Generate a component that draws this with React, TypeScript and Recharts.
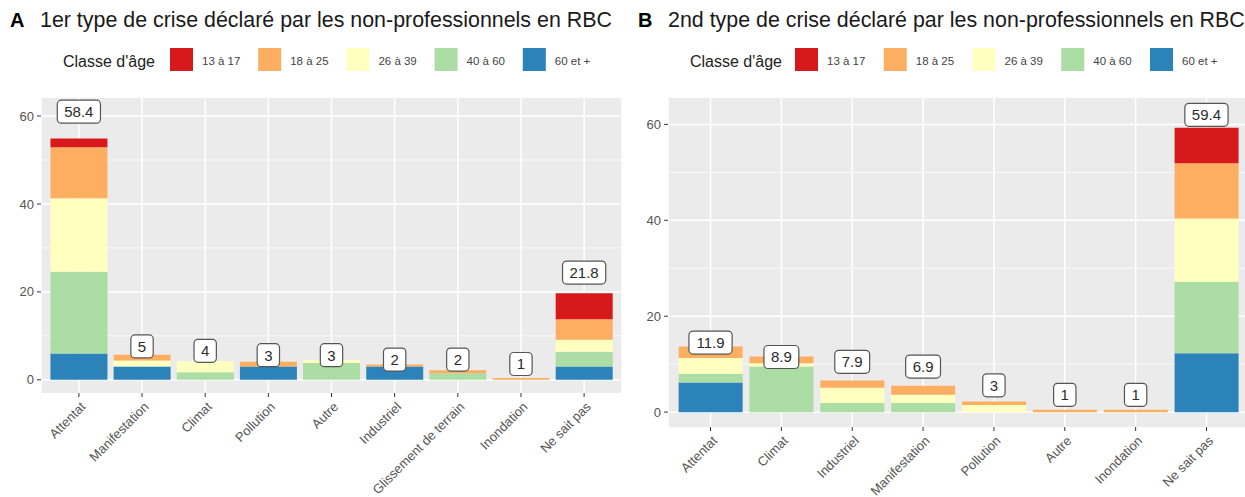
import React from "react";
import { ComposedChart, Bar, Scatter, XAxis, YAxis, CartesianGrid } from "recharts";

const FONT = '"Liberation Sans", Arial, Helvetica, sans-serif';

// age classes, legend order (top of stack first)
const ageClasses = ["13 à 17", "18 à 25", "26 à 39", "40 à 60", "60 et +"];
const ageKeys = ["k1317", "k1825", "k2639", "k4060", "k60p"];
const ageColors = ["#D7191C", "#FDAE61", "#FFFFBF", "#ABDDA4", "#2B83BA"];

// panel A: 1er type de crise
const typesA = [
  "Attentat",
  "Manifestation",
  "Climat",
  "Pollution",
  "Autre",
  "Industriel",
  "Glissement de terrain",
  "Inondation",
  "Ne sait pas",
];
const a1317 = [2.0, 0, 0, 0, 0, 0, 0, 0, 5.9];
const a1825 = [11.6, 1.3, 0, 1.1, 0, 0.5, 0.7, 0.4, 4.7];
const a2639 = [16.7, 1.4, 2.5, 0, 0.7, 0, 0, 0, 2.7];
const a4060 = [18.6, 0, 1.7, 0, 3.8, 0, 1.5, 0, 3.4];
const a60p = [6.0, 3.0, 0, 3.0, 0, 3.0, 0, 0, 3.0];
const labelsA = [58.4, 5, 4, 3, 3, 2, 2, 1, 21.8];

// panel B: 2nd type de crise
const typesB = [
  "Attentat",
  "Climat",
  "Industriel",
  "Manifestation",
  "Pollution",
  "Autre",
  "Inondation",
  "Ne sait pas",
];
const b1317 = [0, 0, 0, 0, 0, 0, 0, 7.4];
const b1825 = [2.4, 1.4, 1.5, 1.9, 0.7, 0.5, 0.5, 11.5];
const b2639 = [3.3, 0.7, 3.2, 1.7, 1.5, 0, 0, 13.2];
const b4060 = [1.8, 9.5, 1.9, 1.9, 0, 0, 0, 14.9];
const b60p = [6.2, 0, 0, 0, 0, 0, 0, 12.3];
const labelsB = [11.9, 8.9, 7.9, 6.9, 3, 1, 1, 59.4];

const yTicks = [0, 20, 40, 60];
const yMinor = [10, 30, 50];
const LABEL_NUDGE = 2.6;

function buildRows(types: string[], series: number[][], labels: number[]) {
  return types.map((type, i) => {
    const row: Record<string, number | string> = { type };
    ageKeys.forEach((key, k) => {
      row[key] = series[k][i];
    });
    row.label = labels[i];
    row.labelPos = labels[i] + LABEL_NUDGE;
    return row;
  });
}

const rowsA = buildRows(typesA, [a1317, a1825, a2639, a4060, a60p], labelsA);
const rowsB = buildRows(typesB, [b1317, b1825, b2639, b4060, b60p], labelsB);

function textWidth(text: string, size: number) {
  let w = 0;
  for (const ch of text) w += ch === "." ? 0.278 : 0.556;
  return w * size;
}

function LabelBox(props: any) {
  const { cx, cy, payload } = props;
  if (cx == null || cy == null) return null;
  const text = String(payload.label);
  const w = textWidth(text, 15) + 14;
  const h = 23;
  return (
    <g>
      <rect
        x={cx - w / 2}
        y={cy - h / 2}
        width={w}
        height={h}
        rx={4}
        ry={4}
        fill="#FFFFFF"
        stroke="#555555"
        strokeWidth={1.2}
      />
      <text
        x={cx}
        y={cy + 5.5}
        textAnchor="middle"
        fontSize={15}
        fontFamily={FONT}
        fill="#2B2B2B"
      >
        {text}
      </text>
    </g>
  );
}

function RotatedTick(props: any) {
  const { x, y, payload } = props;
  const tx = x + 1;
  const ty = y + 2;
  return (
    <text
      x={tx}
      y={ty}
      transform={`rotate(-45, ${tx}, ${ty})`}
      textAnchor="end"
      dy="0.71em"
      fontSize={13}
      fontFamily={FONT}
      fill="#555555"
    >
      {payload.value}
    </text>
  );
}

function Panel({
  rows,
  width,
  marginRight,
  xPad,
  xAxisHeight,
  yDomain,
}: {
  rows: Record<string, number | string>[];
  width: number;
  marginRight: number;
  xPad: number;
  xAxisHeight: number;
  yDomain: [number, number];
}) {
  const stackOrder = [4, 3, 2, 1, 0];
  return (
    <ComposedChart
      width={width}
      height={497}
      data={rows}
      margin={{ top: 98, right: marginRight, bottom: 0, left: 0 }}
      barCategoryGap="5%"
    >
      <CartesianGrid
        fill="#EBEBEB"
        stroke="#FFFFFF"
        strokeWidth={0.8}
        vertical={false}
        horizontalValues={yMinor}
      />
      <CartesianGrid stroke="#FFFFFF" strokeWidth={1.5} horizontalValues={yTicks} />
      <XAxis
        dataKey="type"
        type="category"
        interval={0}
        padding={{ left: xPad, right: xPad }}
        axisLine={false}
        tickLine={{ stroke: "#333333" }}
        tickSize={4}
        height={xAxisHeight}
        tick={<RotatedTick />}
      />
      <YAxis
        type="number"
        domain={yDomain}
        ticks={yTicks}
        allowDataOverflow
        width={41}
        axisLine={false}
        tickLine={{ stroke: "#333333" }}
        tickSize={4}
        tickMargin={3}
        tick={{ fill: "#555555", fontSize: 13, fontFamily: FONT }}
      />
      {stackOrder.map((k) => (
        <Bar
          key={ageKeys[k]}
          dataKey={ageKeys[k]}
          stackId="age"
          fill={ageColors[k]}
          isAnimationActive={false}
        />
      ))}
      <Scatter dataKey="labelPos" shape={LabelBox} isAnimationActive={false} />
    </ComposedChart>
  );
}

function Header({
  letter,
  x,
  title,
  legendX,
  swatchX,
  step,
}: {
  letter: string;
  x: number;
  title: string;
  legendX: number;
  swatchX: number;
  step: number;
}) {
  return (
    <g fontFamily={FONT}>
      <text x={x} y={27} fontSize={20} fontWeight="bold" fill="#000000">
        {letter}
      </text>
      <text x={x + 30} y={27} fontSize={21.4} fill="#1A1A1A">
        {title}
      </text>
      <text x={legendX} y={67} fontSize={16} fill="#222222">
        Classe d'âge
      </text>
      {ageClasses.map((name, i) => (
        <g key={name}>
          <rect x={swatchX + i * step} y={48} width={23} height={23} fill={ageColors[i]} />
          <text x={swatchX + i * step + 32} y={64.5} fontSize={11.5} fill="#444444">
            {name}
          </text>
        </g>
      ))}
    </g>
  );
}

export default function App() {
  return (
    <div
      style={{
        position: "absolute",
        left: 0,
        top: 0,
        width: 1245,
        height: 497,
        overflow: "hidden",
        background: "#FFFFFF",
        fontFamily: FONT,
      }}
    >
      <div style={{ position: "absolute", left: 0, top: 0 }}>
        <Panel
          rows={rowsA}
          width={630}
          marginRight={8}
          xPad={6.3}
          xAxisHeight={104}
          yDomain={[-3, 64.1]}
        />
      </div>
      <div style={{ position: "absolute", left: 627, top: 0 }}>
        <Panel
          rows={rowsB}
          width={627}
          marginRight={5}
          xPad={7.1}
          xAxisHeight={70}
          yDomain={[-3.1, 65.5]}
        />
      </div>
      <svg
        width={1245}
        height={497}
        style={{ position: "absolute", left: 0, top: 0, pointerEvents: "none" }}
      >
        <Header
          letter="A"
          x={10}
          title="1er type de crise déclaré par les non-professionnels en RBC"
          legendX={63}
          swatchX={170}
          step={88.2}
        />
        <Header
          letter="B"
          x={638}
          title="2nd type de crise déclaré par les non-professionnels en RBC"
          legendX={690}
          swatchX={795}
          step={88.75}
        />
      </svg>
    </div>
  );
}
